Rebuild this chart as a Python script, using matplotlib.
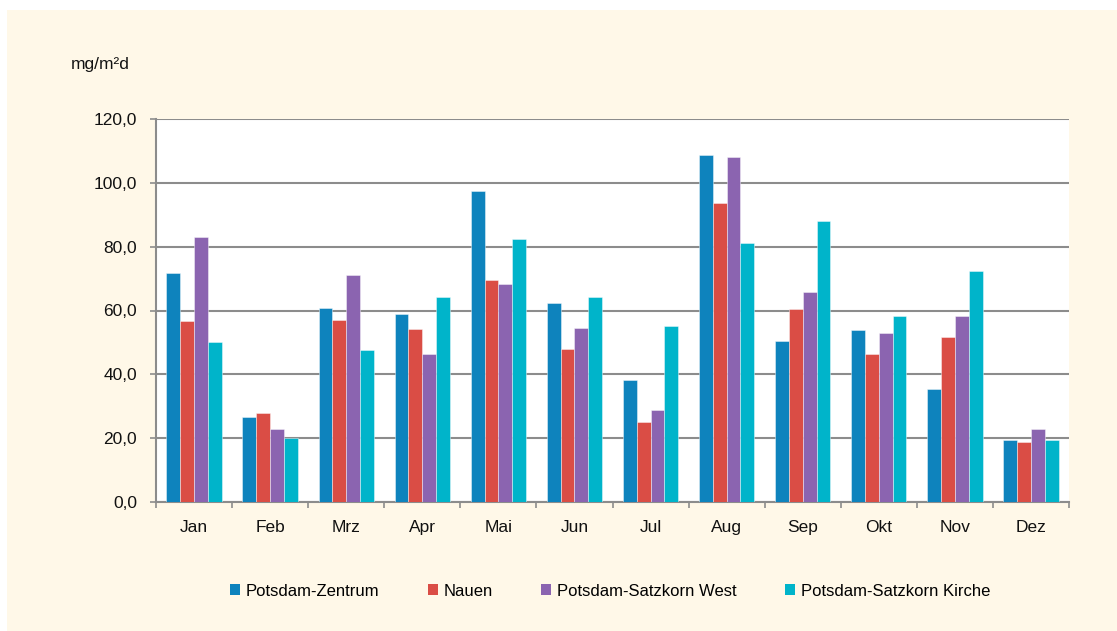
import matplotlib.pyplot as plt
import numpy as np
from matplotlib.patches import Patch, Rectangle

plt.rcParams['font.family'] = ['Liberation Sans', 'DejaVu Sans']

# Monthly values (mg/m²d)
months = ['Jan', 'Feb', 'Mrz', 'Apr', 'Mai', 'Jun', 'Jul', 'Aug', 'Sep', 'Okt', 'Nov', 'Dez']
zentrum = [71.7, 26.6, 60.7, 59.0, 97.5, 62.5, 38.1, 108.7, 50.5, 54.0, 35.3, 19.4]
nauen = [56.8, 27.8, 57.1, 54.2, 69.5, 47.9, 25.2, 93.6, 60.6, 46.3, 51.6, 18.9]
satzkorn_west = [82.9, 22.9, 71.0, 46.5, 68.4, 54.6, 28.9, 108.1, 65.7, 52.8, 58.4, 22.8]
satzkorn_kirche = [50.0, 20.2, 47.6, 64.1, 82.3, 64.3, 55.1, 81.0, 87.9, 58.4, 72.3, 19.4]

series = [zentrum, nauen, satzkorn_west, satzkorn_kirche]
names = ['Potsdam-Zentrum', 'Nauen', 'Potsdam-Satzkorn West', 'Potsdam-Satzkorn Kirche']
colors = ['#0E83BD', '#DA4D45', '#8B64B0', '#00B4CA']

fig = plt.figure(figsize=(11.17, 6.31), dpi=100)
fig.patch.set_facecolor('white')
# cream background panel
fig.patches.append(Rectangle((7 / 1117, 0), 1, 1 - 10 / 631, transform=fig.transFigure,
                             facecolor='#FFF8E8', edgecolor='none', zorder=-1))

ax = fig.add_axes([156 / 1117, 1 - 502 / 631, 913 / 1117, 383 / 631])
ax.set_zorder(2)
ax.set_facecolor('white')

x = np.arange(len(months))
w = 0.182
for i, (vals, c) in enumerate(zip(series, colors)):
    ax.bar(x + (i - 1.5) * w, vals, width=w, color=c, edgecolor=(1, 1, 1, 0.5),
           linewidth=0.6, zorder=3)

ax.set_xlim(-0.5, len(months) - 0.5)
ax.set_ylim(0, 120)
ax.set_yticks(np.arange(0, 121, 20))
ax.set_yticklabels([f'{v:.1f}'.replace('.', ',') for v in np.arange(0, 121, 20)])
ax.yaxis.grid(True, color='#8C8C8C', linewidth=1.5, zorder=1)
ax.set_axisbelow(True)

ax.set_xticks(x)
ax.set_xticklabels(months)
ax.set_xticks(np.arange(-0.5, len(months), 1), minor=True)
ax.tick_params(axis='x', which='major', length=0, pad=13, labelsize=12.5, colors='#111111')
ax.tick_params(axis='x', which='minor', length=4.3, width=1.2, color='#8C8C8C', direction='out')
ax.tick_params(axis='y', length=4.3, width=1.2, color='#8C8C8C', pad=9.4, labelsize=12.5,
               labelcolor='#111111')

for s in ['top', 'right']:
    ax.spines[s].set_visible(False)
for s in ['left', 'bottom']:
    ax.spines[s].set_color('#8C8C8C')
    ax.spines[s].set_linewidth(1.5)

fig.text(71 / 1117, 1 - 65 / 631, 'mg/m²d', fontsize=12.5, color='#111111', va='center', ha='left')

handles = [Patch(facecolor=c, edgecolor='none') for c in colors]
fig.legend(handles, names, loc='center', bbox_to_anchor=(610 / 1117, 1 - 591 / 631), ncol=4,
           frameon=False, fontsize=12, handlelength=0.6, handleheight=0.6,
           handletextpad=0.35, columnspacing=2.9)

fig.savefig('out.png', dpi=100, facecolor=fig.get_facecolor())
